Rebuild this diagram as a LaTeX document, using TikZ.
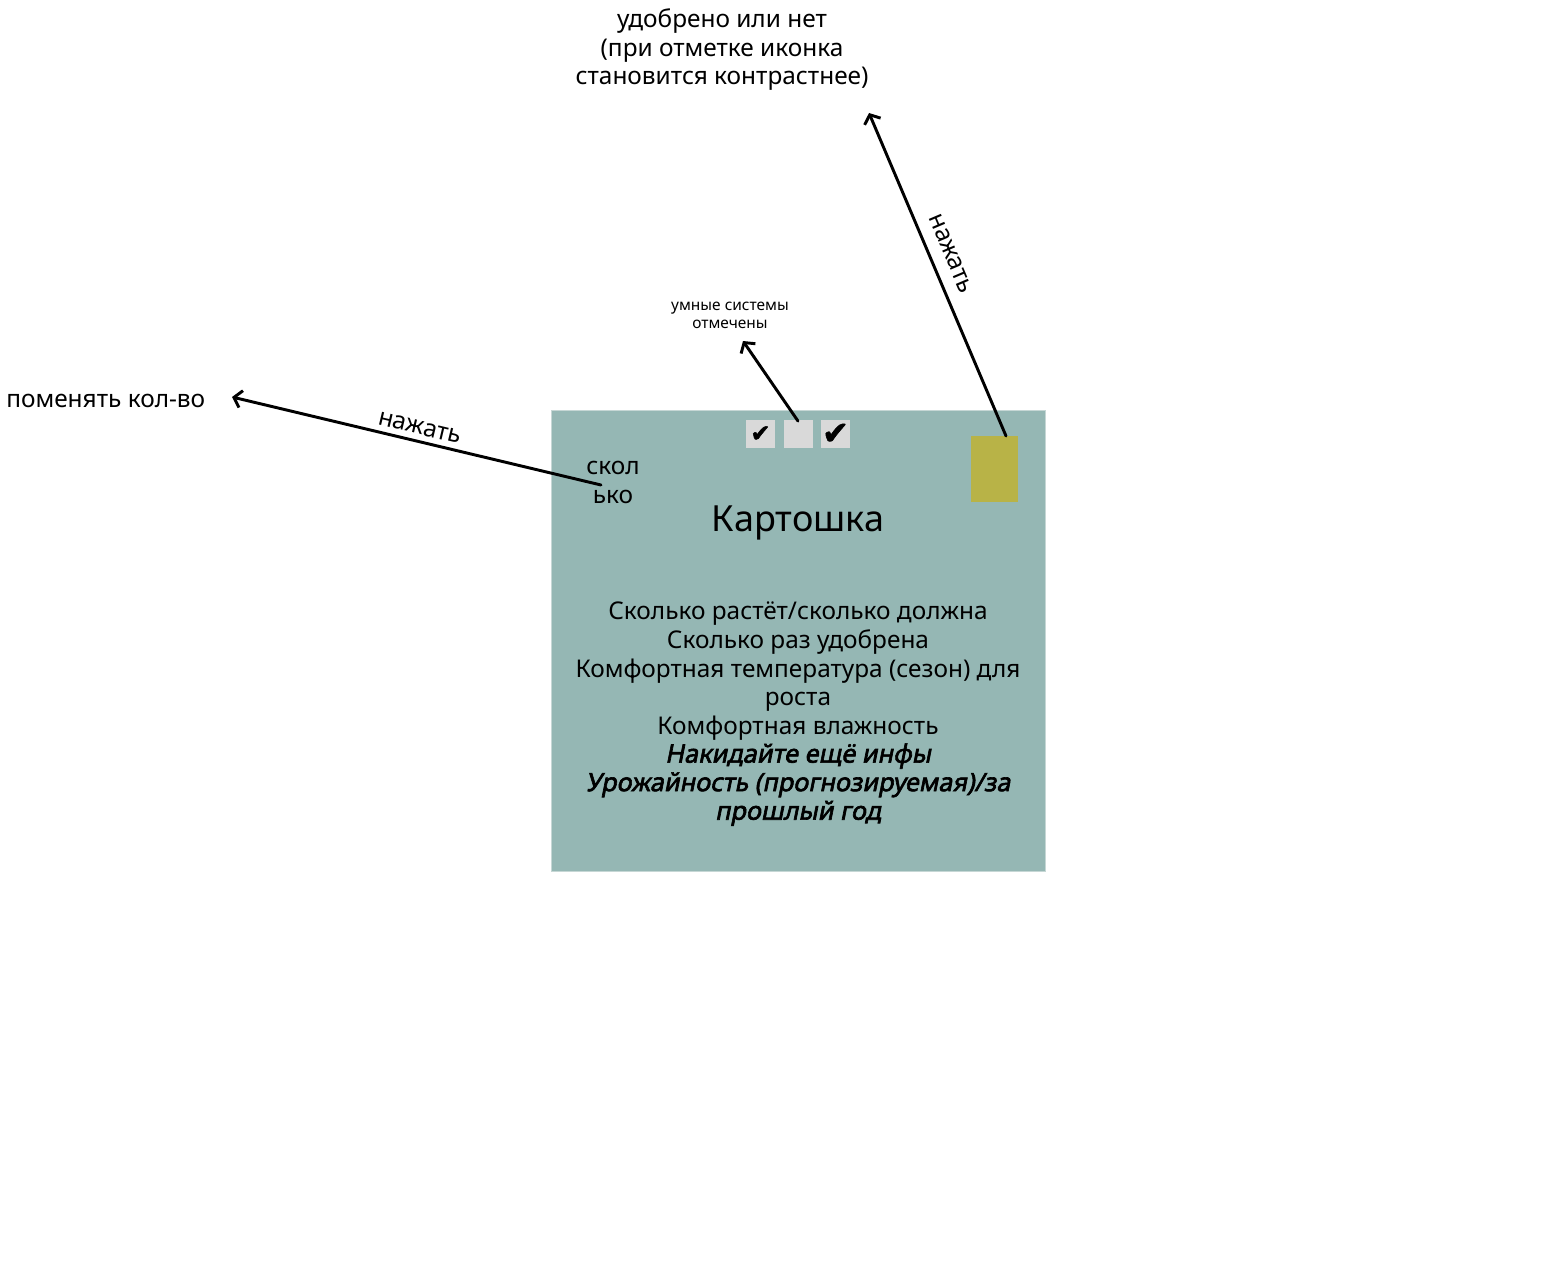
\documentclass[tikz,border=0pt]{standalone}
\usepackage{fontspec}
\setmainfont{Noto Sans}
\newfontfamily\slantfont{Noto Sans}[FakeSlant=0.2,FakeBold=2.5]
\newfontfamily\marksfont{DejaVu Sans}[FakeBold=2]
\usetikzlibrary{arrows.meta}
\definecolor{cardgreen}{HTML}{95B7B4}
\definecolor{cardedge}{HTML}{C6D7D5}
\definecolor{boxgrey}{HTML}{D9D9D9}
\definecolor{fertyellow}{HTML}{B8B347}

\begin{document}
\begin{tikzpicture}[x=0.75pt,y=-0.75pt,
  >={Straight Barb[length=5.5pt,width=13pt]},
  tap/.style={->,line width=2.2pt,line cap=round},
  note/.style={align=center,inner sep=0pt,font=\fontsize{18.3}{21.4}\selectfont},
  small/.style={align=center,inner sep=0pt,font=\fontsize{11.6}{13.5}\selectfont},
  checkbox/.style={fill=boxgrey,minimum width=21.75pt,minimum height=21pt,inner sep=0pt}]
\useasboundingbox (0,0) rectangle (1548,1280);

% card
\node (card) at (798,640.5) [fill=cardgreen,draw=cardedge,line width=0.75pt,
  minimum width=370.5pt,minimum height=345.75pt,inner sep=0pt] {};
\node (sys1) at (760.5,434) [checkbox] {\marksfont\fontsize{18}{18}\selectfont ✔};
\node (sys2) at (798,434)   [checkbox] {};
\node (sys3) at (835.5,434) [checkbox] {\marksfont\fontsize{24}{24}\selectfont ✔};
\node (fert) at (994.5,469) [fill=fertyellow,minimum width=35.25pt,minimum height=49.5pt,inner sep=0pt] {};

\node (count) at (613,482.5) [note] {скол\\ько};
\node (title) at (798,523) [note,font=\fontsize{27}{32}\selectfont] {Картошка};
\node (info) at (798,714) [note] {Сколько растёт/сколько должна\\
  Сколько раз удобрена\\
  Комфортная температура (сезон) для\\
  роста\\
  Комфортная влажность\\
  {\slantfont\fontsize{19}{21.4}\selectfont Накидайте ещё инфы}\\
  {\slantfont\fontsize{19}{21.4}\selectfont Урожайность (прогнозируемая)/за}\\
  {\slantfont\fontsize{19}{21.4}\selectfont прошлый год}};

% notes
\node (fertnote) at (722,50) [note] {удобрено или нет\\
  (при отметке иконка\\
  становится контрастнее)};
\node (sysnote) at (730,315) [small] {умные системы\\отмечены};
\node (countnote) at (6,401) [note,anchor=west] {поменять кол-во};

\coordinate (countTap) at (601,485);
\coordinate (countTip) at (232,397);
\coordinate (sysTip)   at (743,341);
\coordinate (fertTap)  at (1006,436);
\coordinate (fertTip)  at (869,113);

% arrows
\path[tap] (countTap) edge node[sloped,above=4pt,note] {нажать} (countTip);
\path[tap] ([yshift=-1pt]sys2.north) edge (sysTip);
\path[tap] (fertTap) edge node[pos=0.54,sloped,above=9pt,note] {нажать} (fertTip);

\end{tikzpicture}
\end{document}
